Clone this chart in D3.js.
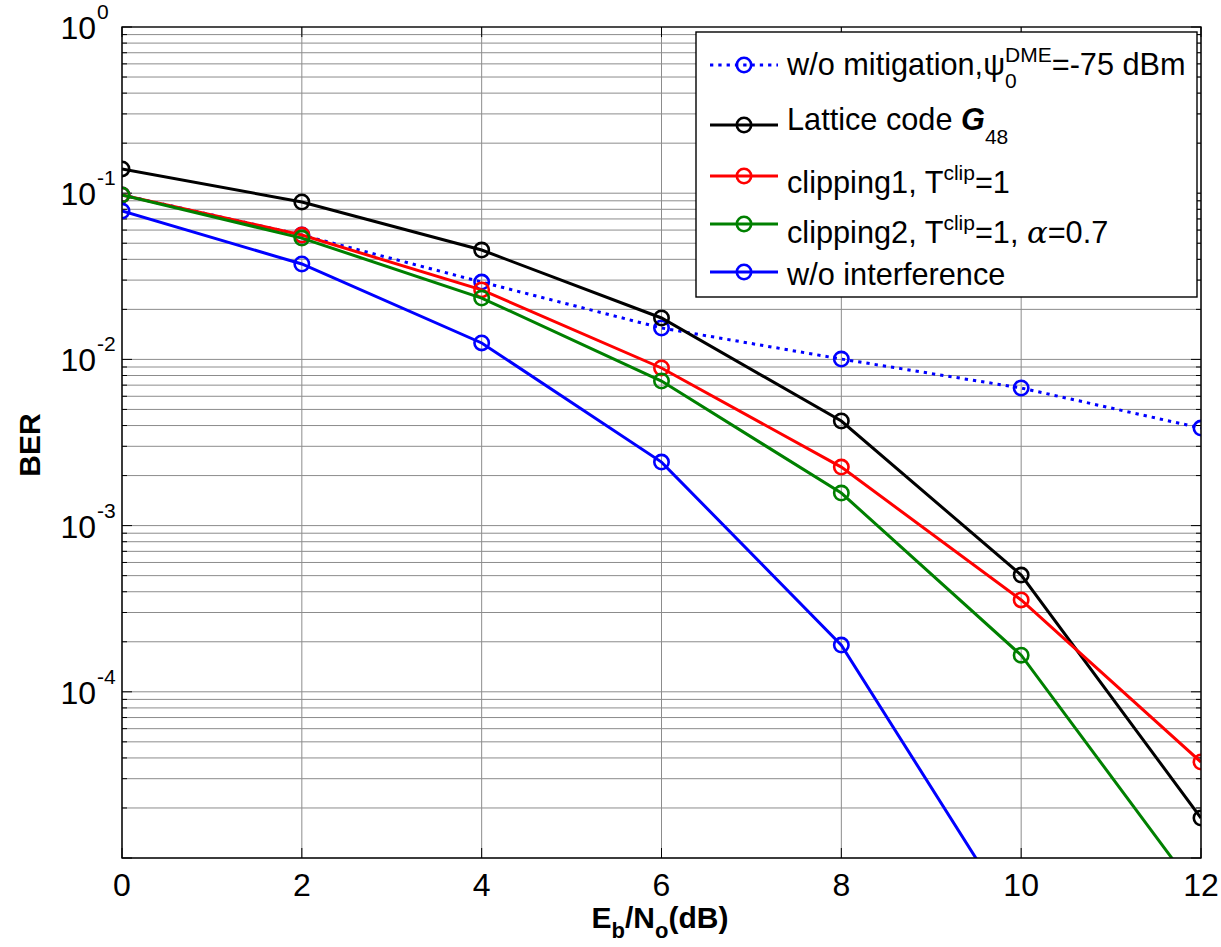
<!DOCTYPE html>
<html>
<head>
<meta charset="utf-8">
<script src="https://cdn.jsdelivr.net/npm/d3@7"></script>
<style>
  body { margin: 0; background: #fff; }
  text { font-family: "Liberation Sans", Arial, sans-serif; white-space: pre; }
</style>
</head>
<body>
<svg id="chart" width="1221" height="947"></svg>
<script>
// data
const snr = [0, 2, 4, 6, 8, 10, 12]
const berNoMitigation = [0.0976, 0.056, 0.0292, 0.01545, 0.01005, 0.00673, 0.00386]
const berLattice = [0.140, 0.0885, 0.0455, 0.01775, 0.00426, 5.04e-4, 1.74e-5]
const berClip1 = [0.0976, 0.0560, 0.0262, 0.00888, 0.00225, 3.57e-4, 3.78e-5]
const berClip2 = [0.0976, 0.0537, 0.0234, 0.00741, 0.00157, 1.66e-4, 5.8e-6]
const berNoInterference = [0.0781, 0.0375, 0.01256, 0.00241, 1.91e-4, 3.7e-6]
const xTicks = [0, 2, 4, 6, 8, 10, 12]
const yDecades = [0, -1, -2, -3, -4, -5]

const plotLeft = 122, plotRight = 1201, plotTop = 27, plotBottom = 858

const svg = d3.select("#chart")

const x = d3.scaleLinear().domain([0, 12]).range([plotLeft, plotRight])
const y = d3.scaleLog().domain([1e-5, 1]).range([plotBottom, plotTop])

svg.append("defs").append("clipPath").attr("id", "plotClip")
    .append("rect")
    .attr("x", plotLeft).attr("y", plotTop)
    .attr("width", plotRight - plotLeft).attr("height", plotBottom - plotTop)

// grid lines (every minor step on the log axis)
let yGrid = []
yDecades.forEach(k => {
    if (k === 0) return
    for (let m = 1; m <= 9; m++) yGrid.push(m * Math.pow(10, k))
})
const grid = svg.append("g").attr("stroke", "#8c8c8c").attr("stroke-width", 1)
grid.selectAll("line.h")
    .data(yGrid)
    .enter()
    .append("line")
    .attr("x1", plotLeft).attr("x2", plotRight)
    .attr("y1", d => y(d)).attr("y2", d => y(d))
grid.selectAll("line.v")
    .data(xTicks)
    .enter()
    .append("line")
    .attr("y1", plotTop).attr("y2", plotBottom)
    .attr("x1", d => x(d)).attr("x2", d => x(d))

// ticks on all four sides, pointing inward
const ticks = svg.append("g").attr("stroke", "#000").attr("stroke-width", 1)
const isMajor = d => Math.abs(Math.log10(d) - Math.round(Math.log10(d))) < 1e-9
yGrid.concat([1]).forEach(d => {
    let len = isMajor(d) ? 10 : 5
    ticks.append("line").attr("x1", plotLeft).attr("x2", plotLeft + len).attr("y1", y(d)).attr("y2", y(d))
    ticks.append("line").attr("x1", plotRight).attr("x2", plotRight - len).attr("y1", y(d)).attr("y2", y(d))
})
xTicks.forEach(d => {
    ticks.append("line").attr("x1", x(d)).attr("x2", x(d)).attr("y1", plotBottom).attr("y2", plotBottom - 10)
    ticks.append("line").attr("x1", x(d)).attr("x2", x(d)).attr("y1", plotTop).attr("y2", plotTop + 10)
})

// x tick labels
svg.selectAll("text.xtick")
    .data(xTicks)
    .enter()
    .append("text")
    .attr("class", "xtick")
    .attr("x", d => x(d))
    .attr("y", plotBottom + 38)
    .attr("text-anchor", "middle")
    .attr("font-size", 32)
    .text(d => d)

// y tick labels 10^k
yDecades.filter(k => k > -5).forEach(k => {
    let yy = y(Math.pow(10, k))
    svg.append("text")
        .attr("x", plotLeft - 26).attr("y", yy + 12)
        .attr("text-anchor", "end").attr("font-size", 32)
        .text("10")
    svg.append("text")
        .attr("x", plotLeft - 25).attr("y", yy - 8)
        .attr("font-size", 21)
        .text(k === 0 ? "0" : String(k))
})

// series
const series = [
    { values: berNoMitigation, color: "#0000ff", dash: "3.3,5" },
    { values: berLattice, color: "#000000", dash: null },
    { values: berClip1, color: "#ff0000", dash: null },
    { values: berClip2, color: "#008000", dash: null },
    { values: berNoInterference, color: "#0000ff", dash: null }
]

const line = d3.line()
    .x((d, i) => x(snr[i]))
    .y(d => y(d))

const plot = svg.append("g").attr("clip-path", "url(#plotClip)")

series.forEach(s => {
    plot.append("path")
        .attr("d", line(s.values))
        .attr("fill", "none")
        .attr("stroke", s.color)
        .attr("stroke-width", 3)
        .attr("stroke-dasharray", s.dash)
    plot.selectAll(null)
        .data(s.values)
        .enter()
        .append("circle")
        .attr("cx", (d, i) => x(snr[i]))
        .attr("cy", d => y(d))
        .attr("r", 7.2)
        .attr("fill", "none")
        .attr("stroke", s.color)
        .attr("stroke-width", 2.6)
})

// axes box
svg.append("rect")
    .attr("x", plotLeft).attr("y", plotTop)
    .attr("width", plotRight - plotLeft).attr("height", plotBottom - plotTop)
    .attr("fill", "none").attr("stroke", "#000").attr("stroke-width", 1.4)

// pieces of text laid out one after another (for sub / superscripts)
const richText = (g, x0, y0, parts, base) => {
    let cx = x0
    let prevStart = x0
    let prevW = 0
    parts.forEach(p => {
        let start = p.stack ? prevStart : cx
        let t = g.append("text")
            .attr("x", start)
            .attr("y", y0 + (p.dy || 0))
            .attr("font-size", p.size || base.size)
            .attr("font-weight", p.weight || base.weight || "normal")
            .attr("font-style", p.style || "normal")
            .text(p.t)
        if (p.family) t.style("font-family", p.family)
        let w = t.node().getComputedTextLength()
        if (p.stack) {
            cx = start + Math.max(w, prevW)
        } else {
            cx = start + w
        }
        prevStart = start
        prevW = w
    })
    return cx - x0
}

// legend
const legendRows = [
    [{ t: "w/o mitigation," }, { t: "ψ" }, { t: "0", size: 21, dy: 13 }, { t: "DME", size: 21, dy: -13, stack: true }, { t: "=-75 dBm" }],
    [{ t: "Lattice code " }, { t: "G", weight: "bold", style: "italic" }, { t: "48", size: 21, dy: 14 }],
    [{ t: "clipping1, T" }, { t: "clip", size: 21, dy: -13 }, { t: "=1" }],
    [{ t: "clipping2, T" }, { t: "clip", size: 21, dy: -13 }, { t: "=1, " }, { t: "α", style: "italic", family: "DejaVu Serif" }, { t: "=0.7" }],
    [{ t: "w/o interference" }]
]
const legendLineY = [65, 125, 176, 224, 272]
const legendTextY = [75, 130, 193, 243, 285]

const legend = svg.append("g")
legend.append("rect")
    .attr("x", 696).attr("y", 32)
    .attr("width", 501).attr("height", 265)
    .attr("fill", "#fff").attr("stroke", "#000").attr("stroke-width", 1.4)

series.forEach((s, i) => {
    legend.append("line")
        .attr("x1", 710).attr("x2", 778)
        .attr("y1", legendLineY[i]).attr("y2", legendLineY[i])
        .attr("stroke", s.color).attr("stroke-width", 3)
        .attr("stroke-dasharray", s.dash)
    legend.append("circle")
        .attr("cx", 744).attr("cy", legendLineY[i]).attr("r", 7.2)
        .attr("fill", "none").attr("stroke", s.color).attr("stroke-width", 2.6)
    richText(legend, 787, legendTextY[i], legendRows[i], { size: 30.7 })
})

// axis labels
svg.append("text")
    .attr("transform", "translate(40,445) rotate(-90)")
    .attr("text-anchor", "middle")
    .attr("font-size", 30).attr("font-weight", "bold")
    .text("BER")

const xLabel = svg.append("g")
const xLabelW = richText(xLabel, 0, 928, [
    { t: "E" }, { t: "b", size: 22, dy: 10 }, { t: "/N" }, { t: "o", size: 22, dy: 10 }, { t: "(dB)" }
], { size: 30, weight: "bold" })
xLabel.attr("transform", "translate(" + (660 - xLabelW / 2) + ",0)")
</script>
</body>
</html>
